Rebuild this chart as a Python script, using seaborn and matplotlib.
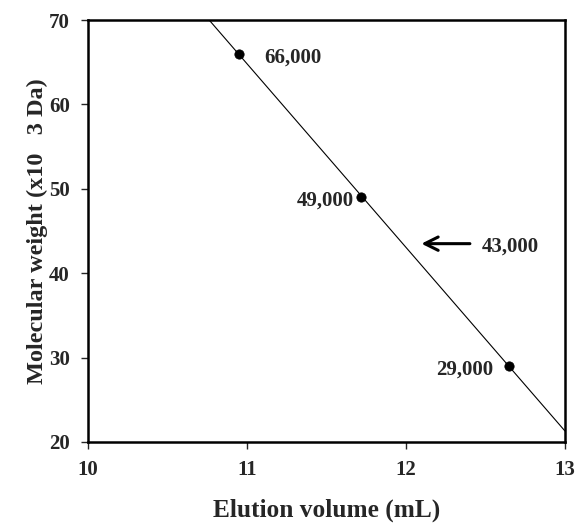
import numpy as np
import pandas as pd
import matplotlib
matplotlib.use("Agg")
import matplotlib.pyplot as plt
import seaborn as sns

# standard proteins
elution_ml = [10.95, 11.72, 12.65]
mw_kda = [66, 49, 29]
labels = ["66,000", "49,000", "29,000"]

# unknown protein
unk_label = "43,000"
unk_mw = 43.5
unk_x = 12.08

df = pd.DataFrame({"elution": elution_ml, "mw": mw_kda})

sns.set_style("ticks")
plt.rcParams["font.family"] = ["Liberation Serif", "DejaVu Serif"]
plt.rcParams["font.weight"] = "bold"

fig = plt.figure(figsize=(5.77, 5.24), dpi=100)
ax = fig.add_axes([0.1525, 0.1565, 0.8265, 0.8053])

# calibration line (least squares fit)
slope, icpt = np.polyfit(df["elution"], df["mw"], 1)
xs = np.array([10, 13])
ax.plot(xs, slope * xs + icpt, color="black", lw=0.8)

sns.scatterplot(data=df, x="elution", y="mw", color="black", s=45,
                edgecolor="black", zorder=3, ax=ax)

fs = 15
ax.text(11.11, 65.6, labels[0], fontsize=fs, fontweight="bold",
        va="center", ha="left")
ax.text(11.67, 48.6, labels[1], fontsize=fs, fontweight="bold",
        va="center", ha="right")
ax.text(12.55, 28.6, labels[2], fontsize=fs, fontweight="bold",
        va="center", ha="right")

ax.annotate("", xy=(unk_x, unk_mw), xytext=(unk_x + 0.34, unk_mw),
            arrowprops=dict(arrowstyle="->", color="black", lw=2.2,
                            mutation_scale=24))
ax.text(unk_x + 0.4, unk_mw - 0.3, unk_label, fontsize=fs,
        fontweight="bold", va="center", ha="left")

ax.set_xlim(10, 13)
ax.set_ylim(20, 70)
ax.set_xticks([10, 11, 12, 13])
ax.set_yticks([20, 30, 40, 50, 60, 70])
ax.tick_params(direction="out", length=5, width=1, labelsize=fs,
               pad=8, top=False, right=False)
for lbl in ax.get_xticklabels() + ax.get_yticklabels():
    lbl.set_fontweight("bold")
for sp in ax.spines.values():
    sp.set_linewidth(1.8)
    sp.set_color("black")

ax.set_xlabel("Elution volume (mL)", fontsize=18.3, fontweight="bold",
              labelpad=13)
ax.set_ylabel("Molecular weight (x10   3 Da)", fontsize=17.5,
              fontweight="bold", labelpad=1)

fig.savefig("out.png", dpi=100)
